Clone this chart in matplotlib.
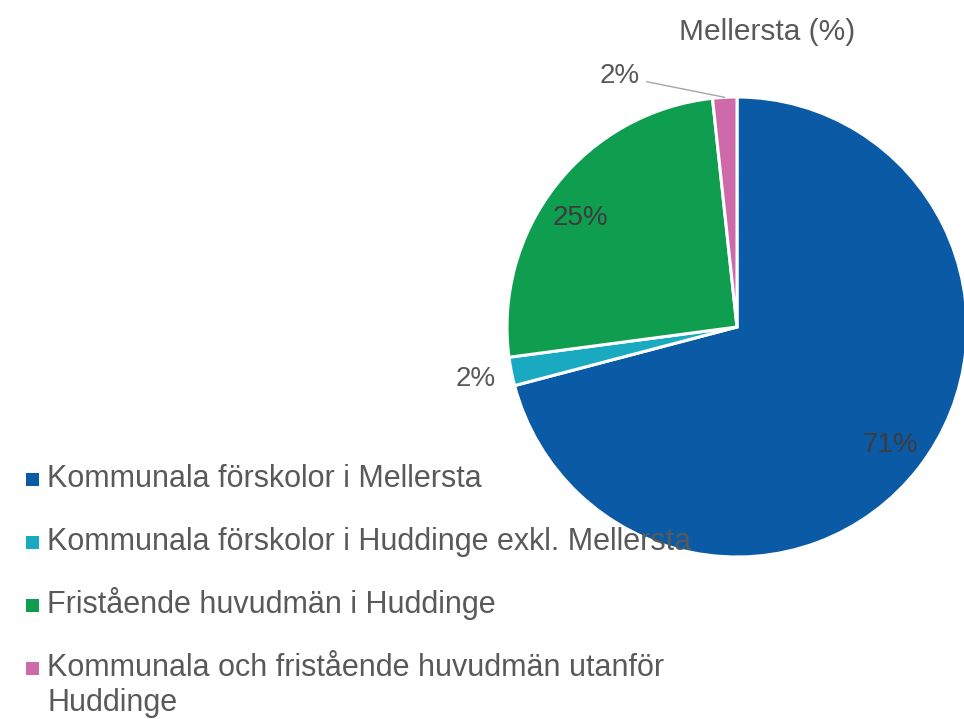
import numpy as np
import matplotlib
matplotlib.use("Agg")
import matplotlib.pyplot as plt
from matplotlib.patches import Rectangle

title = "Mellersta (%)"
categories = [
    "Kommunala förskolor i Mellersta",
    "Kommunala förskolor i Huddinge exkl. Mellersta",
    "Fristående huvudmän i Huddinge",
    "Kommunala och fristående huvudmän utanför\nHuddinge",
]
values = [70.9, 2.0, 25.4, 1.7]
pct_labels = ["71%", "2%", "25%", "2%"]
colors = ["#0B5AA6", "#19A9C0", "#0F9E50", "#CE6AAA"]

W, H = 964, 719
fig = plt.figure(figsize=(W / 100, H / 100), dpi=100)

TXT = "#595959"
FONT = ["Liberation Sans", "DejaVu Sans"]

# pie axes: center (737, 327) px, radius 230 px
cx, cy, r = 737, 327, 230
ax = fig.add_axes([(cx - r) / W, (H - cy - r) / H, 2 * r / W, 2 * r / H])

wedges, _ = ax.pie(values, colors=colors, startangle=90, counterclock=False,
                   radius=1.0, wedgeprops=dict(edgecolor="white", linewidth=2.2),
                   frame=False)
for w in wedges:
    w.set_clip_on(False)
ax.set_xlim(-1, 1)
ax.set_ylim(-1, 1)
ax.set_aspect("equal")
ax.axis("off")

# labels
cum = np.cumsum([0] + values[:-1])
total = sum(values)
for i, (v, c0) in enumerate(zip(values, cum)):
    mid = 90 - (c0 + v / 2) / total * 360
    if i == 0:
        th = np.deg2rad(mid)
        d = 0.84
        ax.text(d * np.cos(th), d * np.sin(th), pct_labels[i], ha="center", va="center",
                fontsize=20, color="#3C3C3C", family=FONT)
    elif i == 2:
        th = np.deg2rad(mid + 3.5)
        d = 0.83
        ax.text(d * np.cos(th), d * np.sin(th), pct_labels[i], ha="center", va="center",
                fontsize=20, color="#3C3C3C", family=FONT)
    elif i == 1:
        th = np.deg2rad(mid)
        d = 1.16
        ax.text(d * np.cos(th), d * np.sin(th), pct_labels[i], ha="center", va="center",
                fontsize=20, color=TXT, family=FONT)
    else:
        th = np.deg2rad(mid)
        ex, ey = np.cos(th), np.sin(th)
        ax.annotate(pct_labels[i], xy=(ex, ey), xytext=(-0.51, 1.09),
                    ha="center", va="center", fontsize=20, color=TXT, family=FONT,
                    annotation_clip=False,
                    arrowprops=dict(arrowstyle="-", color="#A6A6A6", lw=1.0,
                                    shrinkA=3, shrinkB=0))

fig.text(767 / W, 1 - 32 / H, title, ha="center", va="center", fontsize=21.5,
         color=TXT, family=FONT)

# legend (manual)
baselines = [487, 550, 613, 676]
line_gap = 35
for lab, col, b in zip(categories, colors, baselines):
    fig.patches.append(Rectangle((26 / W, 1 - (b - 1) / H), 13 / W, 13 / H,
                                 transform=fig.transFigure, facecolor=col,
                                 edgecolor="none"))
    for k, line in enumerate(lab.split("\n")):
        fig.text(47 / W, 1 - (b + k * line_gap) / H, line, ha="left", va="baseline",
                 fontsize=22, color=TXT, family=FONT)

fig.savefig("out.png", dpi=100)
